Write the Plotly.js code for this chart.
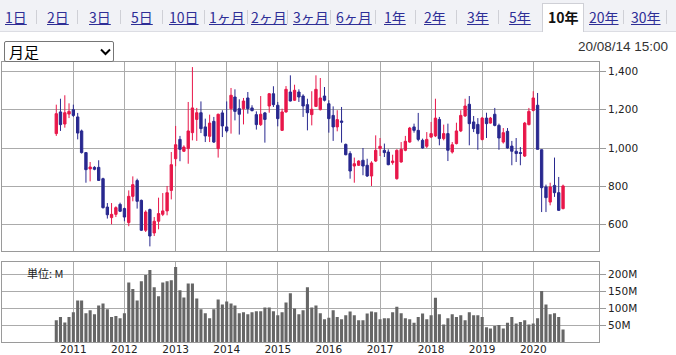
<!DOCTYPE html>
<html>
<head>
<meta charset="utf-8">
<script src="https://cdn.plot.ly/plotly-3.0.1.min.js"></script>
<style>
  html, body { margin: 0; padding: 0; background: #fff; }
  #wrap { position: relative; width: 676px; height: 355px; overflow: hidden; font-family: "Noto Sans CJK JP", "Noto Sans", sans-serif; }
  #chart { position: absolute; left: 0; top: 0; width: 676px; height: 355px; }
  #tabbar { position: absolute; left: 0; top: 0; width: 676px; height: 31px; background: #f1f2f6; border-bottom: 1px solid #dcdde3; z-index: 2; }
  .tab { position: absolute; top: 7px; height: 20px; line-height: 20px; font-size: 14px; color: #2e2e96; text-decoration: underline; white-space: nowrap; }
  .tab.sel { color: #111; font-weight: bold; text-decoration: none; }
  .sep { position: absolute; top: 10px; width: 1px; height: 14px; background: #cfd0d6; }
  #selbox { position: absolute; top: 3px; height: 29px; background: #fff; border: 1px solid #cfd0d6; border-bottom: none; box-sizing: border-box; }
  #dropdown { position: absolute; left: 4px; top: 41px; width: 110px; height: 21px; box-sizing: border-box; border: 1px solid #767676; border-radius: 2px; background: #fff; z-index: 2; }
  #dropdown span { position: absolute; left: 4px; top: -1px; font-size: 15px; line-height: 21px; color: #000; }
  #dropdown svg { position: absolute; left: 95px; top: 6px; }
  #stamp { position: absolute; right: 8px; top: 39px; font-family: "Liberation Sans", Arial, sans-serif; font-size: 13.5px; color: #333; z-index: 2; }
</style>
</head>
<body>
<div id="wrap">
  <div id="chart"></div>
  <div id="tabbar"></div>
  <div id="dropdown"><span>月足</span><svg width="11" height="8" viewBox="0 0 11 8"><path d="M1 1.5 L5.5 6 L10 1.5" stroke="#000" stroke-width="2" fill="none"/></svg></div>
  <div id="stamp">20/08/14 15:00</div>
</div>
<script>
// ---- data ----
var tabLabels = ["1日","2日","3日","5日","10日","1ヶ月","2ヶ月","3ヶ月","6ヶ月","1年","2年","3年","5年","10年","20年","30年"];
var selectedTab = "10年";
var startMonth = "2010-09"; // first monthly candle
var yearLabels = ["2011","2012","2013","2014","2015","2016","2017","2018","2019","2020"];
var openP  = [1075,1188,1125,1177,1200,1162,1089,976,891,899,899,840,692,637,654,706,684,611,748,830,727,571,679,557,618,654,672,779,944,1045,983,997,1080,1149,1184,1110,1061,1139,997,1183,1110,1205,1266,1205,1205,1261,1209,1174,1122,1183,1219,1283,1223,1092,1188,1292,1249,1292,1271,1226,1174,1217,1200,1271,1231,1170,1110,1141,1019,971,906,910,936,910,854,932,997,988,979,924,840,927,988,1031,1110,1092,1040,1009,1057,1063,1149,1049,1075,979,1023,1089,1167,1228,1136,1123,1044,1156,1130,1176,1118,1031,1087,1010,983,976,958,1122,1196,1223,991,797,718,805,767,684];
var highP  = [1226,1257,1275,1233,1226,1183,1096,979,927,905,936,845,713,713,696,715,689,779,852,840,731,675,684,640,741,765,802,979,1115,1063,1014,1240,1422,1209,1243,1153,1174,1162,1179,1197,1243,1313,1306,1254,1261,1292,1223,1191,1271,1188,1287,1322,1240,1205,1323,1379,1330,1306,1280,1257,1296,1379,1365,1318,1249,1217,1197,1214,1023,983,950,936,1000,944,931,1066,1052,1023,993,965,993,1031,1063,1110,1127,1183,1049,1083,1136,1257,1162,1122,1127,1031,1132,1197,1257,1271,1167,1156,1162,1184,1162,1209,1127,1104,1104,1037,1052,1005,1136,1209,1296,1287,993,809,819,950,849,809];
var lowP   = [1063,1089,1106,1156,1162,1045,971,819,826,884,828,684,632,602,640,666,618,592,722,684,567,562,487,541,576,645,649,732,905,931,979,918,1040,1037,1078,1031,1031,1026,950,1057,1080,1075,1144,1070,1123,1179,1191,1096,1115,1028,1184,1214,1113,1089,1184,1243,1245,1240,1162,1092,1118,1214,1196,1243,1080,1037,1087,1028,962,840,819,906,858,849,802,927,958,953,910,913,835,924,983,1028,1080,1035,997,1000,1052,1057,1014,1040,932,971,1019,1083,1162,1014,1083,991,1040,1052,1127,1113,991,1023,997,910,927,910,953,1118,1191,993,666,666,701,745,672,680];
var closeP = [1179,1122,1184,1191,1170,1078,976,887,901,889,831,689,652,654,689,670,640,748,809,722,571,666,541,618,658,672,767,913,1017,993,1005,1089,1209,1184,1101,1063,1130,1031,1176,1115,1089,1275,1191,1176,1245,1205,1195,1122,1176,1149,1283,1226,1153,1188,1306,1245,1301,1266,1219,1184,1202,1306,1261,1249,1153,1110,1148,1134,965,880,918,932,906,854,922,988,1009,976,913,932,988,993,1035,1104,1092,1045,1000,1045,1075,1156,1049,1075,988,1017,1089,1170,1219,1127,1101,1075,1156,1127,1156,1118,1052,1080,1000,983,971,972,1130,1191,1261,993,793,741,797,767,675,802];
var volumeM = [64,74,58,74,88,123,123,85,94,82,108,114,97,74,77,70,85,176,157,123,180,198,213,162,135,176,180,183,222,153,132,173,173,129,97,85,70,97,126,111,120,114,108,85,88,82,88,91,91,102,102,91,79,88,117,144,99,82,94,162,102,108,85,67,72,94,74,67,79,90,79,64,64,84,90,88,67,70,70,88,104,85,70,67,57,74,84,67,79,131,82,52,70,82,74,79,64,88,79,79,74,44,40,47,50,40,57,74,55,59,64,52,55,70,151,111,82,85,74,37];
var priceTicks = [600,800,1000,1200,1400];
var volumeTicks = [50,100,150,200];
var volumeTickText = ["50M","100M","150M","200M"];
var volumeUnitLabel = "単位: M";

// ---- month categories ----
var months = [];
(function(){
  var y = parseInt(startMonth.slice(0,4),10), m = parseInt(startMonth.slice(5,7),10);
  for (var i = 0; i < openP.length; i++) {
    months.push(y + "-" + (m < 10 ? "0" : "") + m + "-01");
    m++; if (m > 12) { m = 1; y++; }
  }
})();
var yearTickVals = yearLabels.map(function(y){ return y + "-01-01"; });

// ---- tab bar ----
var tabX = [5,47,89,131,169,209,251,293,336,384,424,467,509,548,589,631];
var sepX = [36,77,120,162,204,247,287,330,375,415,456,498,null,623,666];
var bar = document.getElementById('tabbar');
var sb = document.createElement('div'); sb.id = 'selbox'; bar.appendChild(sb);
tabLabels.forEach(function(t, i){
  var d = document.createElement('div');
  d.className = 'tab' + (t === selectedTab ? ' sel' : '');
  d.style.left = tabX[i] + 'px';
  d.textContent = t;
  bar.appendChild(d);
  if (t === selectedTab) { sb.style.left = (tabX[i]-6) + 'px'; sb.style.width = '42px'; }
});
sepX.forEach(function(x){ if (x === null) return; var s = document.createElement('div'); s.className='sep'; s.style.left = x+'px'; bar.appendChild(s); });

// ---- chart ----
var W = 676, H = 355;
var RED = '#e8174a', BLUE = '#28288f', GRID = '#ababab', FRAME = '#9a9a9a';
var xDom = [2/W, 599/W];
var tickFont = {family: 'DejaVu Sans, sans-serif', size: 10.5, color: '#222'};

var candle = {
  type: 'candlestick', x: months, open: openP, high: highP, low: lowP, close: closeP,
  xaxis: 'x', yaxis: 'y', whiskerwidth: 0, hoverinfo: 'skip',
  increasing: {line: {color: RED, width: 1}, fillcolor: RED},
  decreasing: {line: {color: BLUE, width: 1}, fillcolor: BLUE}
};
var vol = {
  type: 'bar', x: months, y: volumeM, xaxis: 'x2', yaxis: 'y2',
  marker: {color: '#666666', line: {width: 0}}, width: 22*86400000, hoverinfo: 'skip'
};
var commonX = {
  type: 'date', domain: xDom, range: ['2009-08-09', '2021-04-15'],
  tickmode: 'array', tickvals: yearTickVals, ticktext: yearLabels,
  showgrid: true, gridcolor: GRID, gridwidth: 1,
  showline: true, mirror: true, linecolor: FRAME, linewidth: 1, zeroline: false, ticks: '',
  fixedrange: true
};
var layout = {
  width: W, height: H, margin: {l: 0, r: 0, t: 0, b: 0},
  paper_bgcolor: '#ffffff', plot_bgcolor: '#ffffff', showlegend: false,
  boxgap: 0.4, boxgroupgap: 0,
  xaxis: Object.assign({}, commonX, {anchor: 'y', showticklabels: false, rangeslider: {visible: false}}),
  xaxis2: Object.assign({}, commonX, {anchor: 'y2', matches: 'x', showticklabels: true, tickfont: tickFont, ticklabelstandoff: -3}),
  yaxis: {
    domain: [1-251/H, 1-62/H], range: [462.9, 1448.5], side: 'right', anchor: 'x',
    tickmode: 'array', tickvals: priceTicks, tickformat: ',d', tickfont: tickFont,
    ticks: 'outside', ticklen: 6, tickcolor: FRAME, showgrid: true, gridcolor: GRID,
    showline: true, mirror: true, linecolor: FRAME, zeroline: false, fixedrange: true
  },
  yaxis2: {
    domain: [1-342/H, 1-262.3/H], range: [0, 235.8], side: 'right', anchor: 'x2',
    tickmode: 'array', tickvals: volumeTicks, ticktext: volumeTickText, tickfont: tickFont,
    ticks: 'outside', ticklen: 6, tickcolor: FRAME, showgrid: true, gridcolor: GRID,
    showline: true, mirror: true, linecolor: FRAME, zeroline: false, fixedrange: true
  },
  annotations: [{
    text: volumeUnitLabel, xref: 'paper', yref: 'paper', x: 25/W, y: 1-263/H,
    xanchor: 'left', yanchor: 'top', showarrow: false,
    font: {family: 'Noto Sans CJK JP, sans-serif', size: 11, color: '#222'}
  }]
};
Plotly.newPlot('chart', [candle, vol], layout, {staticPlot: true, displayModeBar: false});
</script>
</body>
</html>
